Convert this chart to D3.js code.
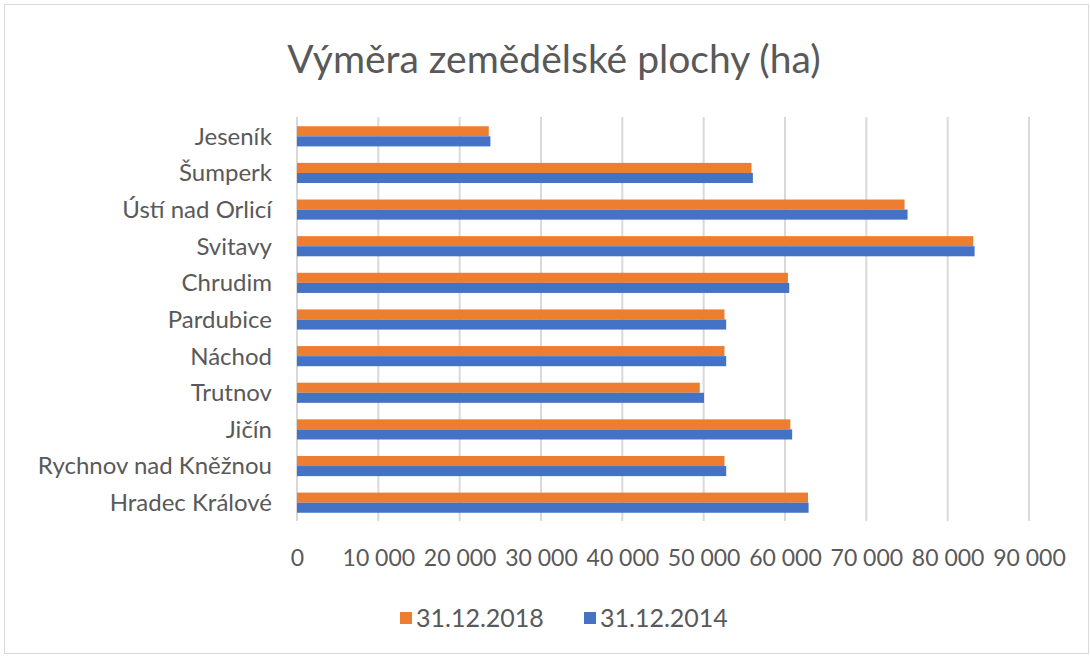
<!doctype html>
<html>
  <head>
    <meta charset="utf-8">
    <title>Výměra zemědělské plochy</title>
    <script src="https://d3js.org/d3.v7.min.js"></script>
    <style type="text/css">
      body { margin: 0; background-color: #ffffff; }
      text { font-family: Lato, "Open Sans", sans-serif; fill: #595959; }
    </style>
  </head>
  <body>
    <script>
      // data
      var districts = ["Jeseník", "Šumperk", "Ústí nad Orlicí", "Svitavy", "Chrudim", "Pardubice",
                       "Náchod", "Trutnov", "Jičín", "Rychnov nad Kněžnou", "Hradec Králové"];
      var seriesNames = ["31.12.2018", "31.12.2014"];
      var values2018 = [23580, 55880, 74700, 83150, 60360, 52560, 52560, 49520, 60660, 52560, 62830];
      var values2014 = [23780, 56050, 75070, 83310, 60520, 52770, 52770, 50040, 60880, 52770, 62900];
      var xTicks = [0, 10000, 20000, 30000, 40000, 50000, 60000, 70000, 80000, 90000];
      var colors = ["#ED7D31", "#4472C4"];

      var w = 1090, h = 657;

      var svg = d3.select("body").append("svg")
        .attr("width", w)
        .attr("height", h);

      // chart border
      svg.append("rect")
        .attr("x", 4.5).attr("y", 4.5)
        .attr("width", w - 6).attr("height", h - 8)
        .style("fill", "none")
        .style("stroke", "#d9d9d9");

      // title
      svg.append("text")
        .attr("x", 554).attr("y", 73)
        .attr("text-anchor", "middle")
        .style("font-size", "39px")
        .text("Výměra zemědělské plochy (ha)");

      var x = d3.scaleLinear().domain([0, 90000]).range([297, 1029]);
      var y = d3.scaleBand().domain(districts).range([118, 521])
        .paddingInner(0.45).paddingOuter(0.225);
      var ySub = d3.scaleBand().domain(seriesNames).range([0, y.bandwidth()]);

      // gridlines
      svg.append("g").selectAll("line")
        .data(xTicks)
        .enter().append("line")
        .attr("x1", function(d) { return x(d); })
        .attr("x2", function(d) { return x(d); })
        .attr("y1", 117).attr("y2", 521)
        .style("stroke", "#d9d9d9")
        .style("stroke-width", 2);

      // x axis labels
      var loc = d3.formatLocale({ decimal: ",", thousands: " ", grouping: [3], currency: ["", ""] });
      var xAxis = d3.axisBottom(x).tickValues(xTicks).tickFormat(loc.format(",d"))
        .tickSize(0).tickPadding(29);
      var gx = svg.append("g").attr("transform", "translate(0,521)").call(xAxis);
      gx.select(".domain").remove();
      gx.selectAll("text")
        .style("font-family", "Lato, 'Open Sans', sans-serif")
        .style("font-size", "23px")
        .style("fill", "#595959");

      // category labels
      svg.append("g").selectAll("text")
        .data(districts)
        .enter().append("text")
        .attr("x", 272)
        .attr("y", function(d) { return y(d) + y.bandwidth() / 2; })
        .attr("dy", "0.35em")
        .attr("text-anchor", "end")
        .style("font-size", "24px")
        .text(function(d) { return d; });

      // bars
      var rows = districts.map(function(d, i) {
        return { name: d, vals: [values2018[i], values2014[i]] };
      });
      var groups = svg.append("g").selectAll("g")
        .data(rows)
        .enter().append("g")
        .attr("transform", function(d) { return "translate(0," + y(d.name) + ")"; });
      groups.selectAll("rect")
        .data(function(d) { return d.vals.map(function(v, k) { return { key: seriesNames[k], v: v, k: k }; }); })
        .enter().append("rect")
        .attr("x", x(0))
        .attr("y", function(d) { return ySub(d.key); })
        .attr("width", function(d) { return x(d.v) - x(0); })
        .attr("height", ySub.bandwidth())
        .style("fill", function(d) { return colors[d.k]; });

      // legend
      var legendX = [400, 584];
      var legend = svg.append("g").selectAll("g")
        .data(seriesNames)
        .enter().append("g")
        .attr("transform", function(d, i) { return "translate(" + legendX[i] + ",612)"; });
      legend.append("rect")
        .attr("width", 12).attr("height", 12)
        .style("fill", function(d, i) { return colors[i]; });
      legend.append("text")
        .attr("x", 16).attr("y", 6)
        .attr("dy", "0.35em")
        .style("font-size", "25px")
        .text(function(d) { return d; });
    </script>
  </body>
</html>
